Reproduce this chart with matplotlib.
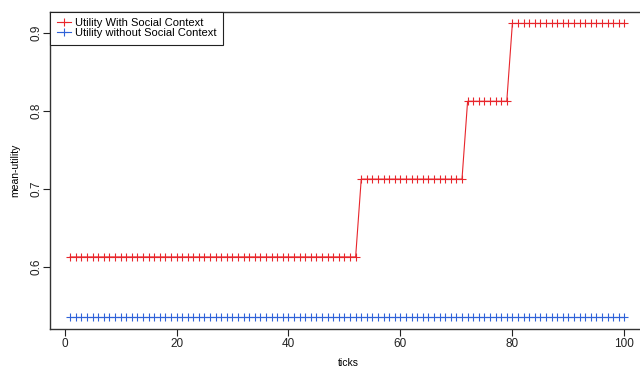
import matplotlib
matplotlib.use("Agg")
import matplotlib.pyplot as plt
import numpy as np

plt.rcParams['font.family'] = ['Liberation Sans', 'DejaVu Sans']

ticks = list(range(1, 101))
with_social = [0.6125] * 52 + [0.7125] * 19 + [0.8125] * 8 + [0.9125] * 21
without_social = [0.535] * 100
series_labels = ["Utility With Social Context", "Utility without Social Context"]
xticks = [0, 20, 40, 60, 80, 100]
yticks = [0.6, 0.7, 0.8, 0.9]

red = '#e8262c'
blue = '#2f62d8'

fig = plt.figure(figsize=(6.4, 3.68), dpi=100)
ax = fig.add_axes([50/640, 39/368, (646.5-50)/640, (329-11.7)/368])

ax.plot(ticks, with_social, color=red, lw=0.8, marker='+', ms=5.5, mew=0.8, label=series_labels[0])
ax.plot(ticks, without_social, color=blue, lw=0.8, marker='+', ms=5.5, mew=0.8, label=series_labels[1])

ax.set_xlim(-2.6, 103.96)
ax.set_ylim(0.51990, 0.92760)
ax.set_xticks(xticks)
ax.set_xticklabels([str(v) for v in xticks])
ax.set_yticks(yticks)
ax.set_yticklabels([str(v) for v in yticks], rotation=90, va='center')
ax.tick_params(direction='out', length=5, width=0.8, labelsize=8.5, colors='#222222')
ax.tick_params(axis='x', pad=1.5)
ax.tick_params(axis='y', pad=0.5)
for s in ax.spines.values():
    s.set_linewidth(1.0)
    s.set_color('#333333')

ax.set_xlabel('ticks', fontsize=7.5, labelpad=6)
ax.set_ylabel('mean-utility', fontsize=7.5, labelpad=7)

leg = ax.legend(loc='upper left', bbox_to_anchor=(0, 1), borderaxespad=0, fontsize=8,
                frameon=True, fancybox=False, edgecolor='#222222', framealpha=1,
                labelspacing=0.0, handlelength=1.3, handletextpad=0.35, borderpad=0.6)
leg.get_frame().set_linewidth(0.8)

fig.savefig('out.png', dpi=100)
